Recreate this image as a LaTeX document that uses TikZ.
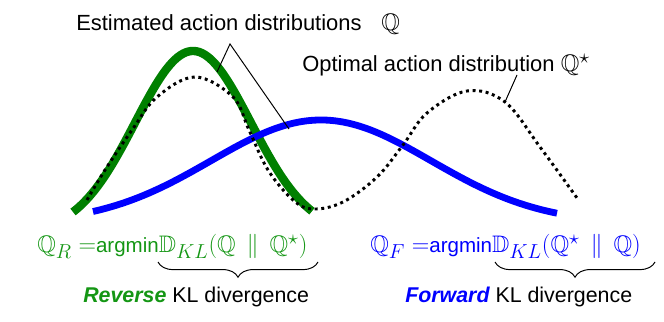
\documentclass[tikz,border=0pt]{standalone}
\usepackage{amssymb}
\usepackage{fontspec}
\setmainfont{Liberation Sans}
\usetikzlibrary{decorations.pathreplacing}

\definecolor{curvegreen}{RGB}{0,128,0}
\definecolor{textgreen}{RGB}{20,150,20}

\DeclareMathSizes{17}{17}{13.5}{10}
\newcommand{\argmintext}{{\fontsize{14.6}{18}\selectfont argmin}}
\newcommand{\klbar}{\mathrel{\mkern3mu\|\mkern3mu}}
\newcommand{\bigQ}[1]{{\fontsize{17}{20}\selectfont$#1$}}

\tikzset{
  lbl/.style={anchor=base west, inner sep=0pt, font=\fontsize{15.6}{18}\selectfont},
  kllbl/.style={anchor=base west, inner sep=0pt, font=\fontsize{15.2}{18}\selectfont},
  eqlbl/.style={anchor=base west, inner sep=0pt, font=\fontsize{17}{20}\selectfont},
  leader/.style={draw=black, line width=0.7pt},
  klbrace/.style={draw=black, line width=0.7pt, decorate, decoration={brace, mirror, amplitude=0.38cm}}
}

\begin{document}
\begin{tikzpicture}[x=0.025cm, y=0.025cm]
\useasboundingbox (0,0) rectangle (664,322);

% distributions
\draw[curvegreen, line width=0.21cm] plot[domain=73:312, samples=90, smooth] (\x, {110+161*(exp(-((\x-193)/100)^2/0.6728)-0.1176)/0.8824});
\draw[blue, line width=0.17cm] plot[domain=93:557, samples=110, smooth] (\x, {110+92*(exp(-((\x-321)/100)^2/2.42)-0.112)/0.888});
\draw[black, line width=2.1pt, dash pattern=on 2.1pt off 2.6pt] plot[smooth, tension=0.6] coordinates {(87,122) (105,152) (132,192) (157,225) (195,245) (233,225) (249,192) (268,152) (293,122) (313,113) (343,120) (377,145) (403,177) (427,209) (467,231) (505,220) (540,175) (577,124)};

% labels
\node[lbl] (est) at (76,291) {Estimated action distributions\hspace{0.9em}\bigQ{\mathbb{Q}}};
\node[lbl] (opt) at (302,250) {Optimal action distribution \bigQ{\mathbb{Q}^\star}};
\coordinate (apex) at (230,278);
\coordinate (onG) at (217,250);
\coordinate (onB) at (289,193);
\draw[leader] (onG) -- (apex) -- (onB);
\coordinate (optfoot) at (517,247);
\coordinate (onD) at (505,220);
\draw[leader] (optfoot) -- (onD);

% objectives
\node[eqlbl, textgreen] (eqR) at (37,69) {$\mathbb{Q}_R =$\argmintext$\mathbb{D}_{KL}(\mathbb{Q}\klbar\mathbb{Q}^\star)$};
\node[eqlbl, blue] (eqF) at (370,69) {$\mathbb{Q}_F =$\argmintext$\mathbb{D}_{KL}(\mathbb{Q}^\star\klbar\mathbb{Q})$};
\draw[klbrace] (158,60) -- (318,60);
\draw[klbrace] (495,60) -- (655,60);
\node[kllbl] (rev) at (83,19) {{\bfseries\itshape\color{textgreen}Reverse} KL divergence};
\node[kllbl] (fwd) at (405,19) {{\bfseries\itshape\color{blue}Forward} KL divergence};
\end{tikzpicture}
\end{document}
